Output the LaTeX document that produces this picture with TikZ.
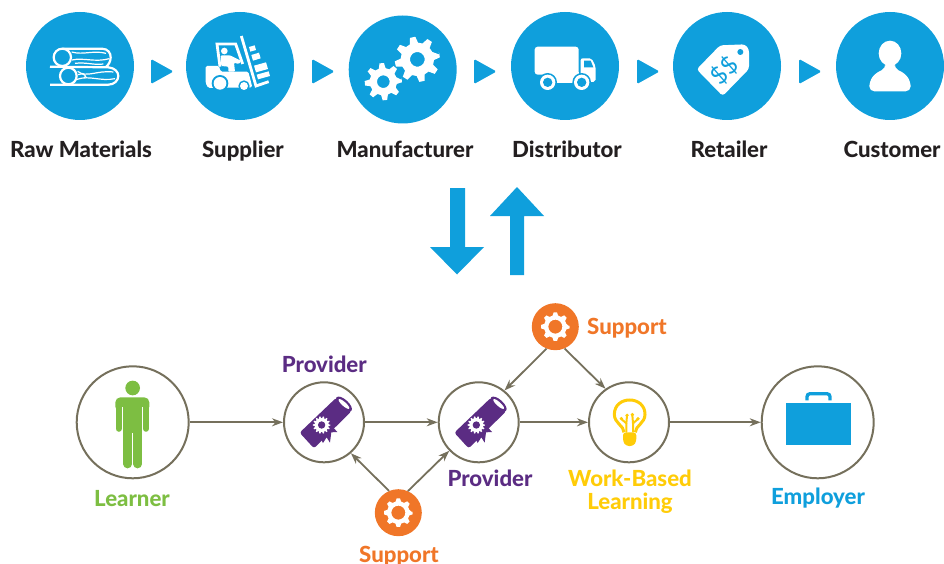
\documentclass[tikz,border=0pt]{standalone}
\usepackage{fontspec}
\setmainfont{Lato}[BoldFont={Lato Heavy}]
\usetikzlibrary{arrows.meta}
\definecolor{cblue}{HTML}{0F9FDC}
\definecolor{corange}{HTML}{F07628}
\definecolor{cpurple}{HTML}{5B2C83}
\definecolor{cgreen}{HTML}{7DBE42}
\definecolor{cyellow}{HTML}{FFCC08}
\definecolor{cdark}{HTML}{231F20}
\definecolor{cline}{HTML}{75705C}
\tikzset{
  stepdisc/.style={circle,fill=cblue,inner sep=0pt,minimum size=108pt},
  bigring/.style={circle,draw=cline,line width=2pt,inner sep=0pt,minimum size=112pt},
  midring/.style={circle,draw=cline,line width=2pt,inner sep=0pt,minimum size=80pt},
  helpdisc/.style={circle,fill=corange,inner sep=0pt,minimum size=47pt},
  steplabel/.style={anchor=base,text=cdark,font=\fontsize{22.2}{24}\selectfont\bfseries,inner sep=0pt},
  lowlabel/.style={anchor=base,font=\fontsize{22.2}{24}\selectfont\bfseries,inner sep=0pt},
  flow/.style={cline,line width=1.8pt,-{Stealth[length=11pt,width=8pt]}},
  zz/.style={x=.33333pt,y=-.33333pt},
}
\newcommand{\gearfill}[8]{% colour, cx, cy, teeth, Rout, Rroot, Rhole, phase
  \fill[#1,even odd rule,shift={(#2,#3)},rotate=#8]
    (#5,0) \foreach \i [evaluate=\i as \a using (\i-1)*360/#4] in {1,...,#4}
      { -- ({\a-55/#4}:#5) -- ({\a+55/#4}:#5) -- ({\a+115/#4}:#6) -- ({\a+245/#4}:#6) }
    -- cycle (0,0) circle[radius=#7];}
\newcommand{\diploma}{%
  \fill[cpurple,rounded corners=2.5pt] (343,413) -- (453,308) -- (499,348) -- (386,460) -- cycle;
  \fill[cpurple] (395,410) -- (413,444) -- (424,427) -- (434,443) -- (438,412) -- (456,411) -- (430,382) -- cycle;
  \fill[cpurple,rotate around={-42:(476,327)}] (476,327) circle[x radius=30,y radius=13];
  \fill[white,rotate around={-42:(476,327)}] (476,327) circle[x radius=21,y radius=6];
  \gearfill{white}{409}{390}{14}{26}{21}{10}{0}
  \fill[cpurple] (409,390) circle[radius=11];
}
\begin{document}
\begin{tikzpicture}[x=1pt,y=-1pt]
\useasboundingbox (0,0) rectangle (944,564);
% top row
\node[stepdisc] (s1) at (80,66) {};
\node[stepdisc] (s2) at (240,66) {};
\node[stepdisc] (s3) at (402.7,69.5) {};
\node[stepdisc] (s4) at (565,66) {};
\node[stepdisc] (s5) at (727,66) {};
\node[stepdisc] (s6) at (890,66) {};
\foreach \p in {151,312,474,637,799}
  \fill[cblue,rounded corners=1.5pt] (\p,59) -- (\p+22.5,71.5) -- (\p,84) -- cycle;
\node[steplabel] (l1) at (81,157.6) {Raw Materials};
\node[steplabel] (l2) at (243,157.6) {Supplier};
\node[steplabel] (l3) at (405,157.6) {Manufacturer};
\node[steplabel] (l4) at (567,157.6) {Distributor};
\node[steplabel] (l5) at (729,157.6) {Retailer};
\node[steplabel] (l6) at (892,157.6) {Customer};
% logs
\begin{scope}[zz]
  \draw[white,line width=2.2pt] (187,172) circle[radius=26];
  \draw[white,line width=2.2pt] (205,228) circle[radius=25];
  \draw[white,line width=2.2pt] (187,146) -- (305,146) .. controls (325,146) and (332,160) .. (332,172) .. controls (332,185) and (325,195) .. (318,201);
  \draw[white,line width=2.2pt] (150,200) -- (325,202) .. controls (345,204) and (355,216) .. (355,228) .. controls (355,242) and (342,254) .. (325,254) -- (150,254);
  \draw[white,line width=1.2pt] (215,156) .. controls (250,166) and (280,150) .. (318,160);
  \draw[white,line width=1.2pt] (216,180) .. controls (250,172) and (285,188) .. (328,176);
  \draw[white,line width=1.2pt] (225,190) .. controls (260,186) and (280,196) .. (310,192);
  \draw[white,line width=1.2pt] (233,214) .. controls (260,235) and (290,210) .. (340,216);
  \draw[white,line width=1.2pt] (231,238) .. controls (270,225) and (300,245) .. (345,236);
  \draw[white,line width=1.2pt] (234,224) .. controls (250,215) and (265,232) .. (252,233);
\end{scope}
% forklift
\begin{scope}[zz]
  \fill[white,rounded corners=1.5pt] (617,198) -- (657,198) -- (662,215) -- (745,215) -- (757,262) -- (625,264) -- (617,250) -- cycle;
  \draw[white,line width=2.8pt] (660,200) -- (651,132) -- (707,132) -- (728,192);
  \fill[white] (673,153) circle[radius=10];
  \fill[white,rounded corners=1pt] (662,166) -- (690,166) -- (724,183) -- (716,192) -- (702,188) -- (705,215) -- (685,215) -- (685,200) -- (664,198) -- cycle;
  \fill[cblue] (660,250) circle[radius=25];
  \fill[white] (660,250) circle[radius=19];
  \fill[cblue] (732,258) circle[radius=17];
  \fill[white] (732,258) circle[radius=12];
  \draw[white,line width=2.8pt] (724,108) -- (768,258) -- (806,245);
  \fill[white] (747,141) -- (764,136) -- (768,150) -- (751,155) -- cycle;
  \fill[white] (754,165) -- (777,158) -- (782,175) -- (759,182) -- cycle;
  \fill[white] (762,197) -- (798,187) -- (804,207) -- (768,217) -- cycle;
  \fill[white] (770,224) -- (806,214) -- (810,228) -- (774,238) -- cycle;
\end{scope}
% gears
\begin{scope}[zz,xshift=330pt]
  \gearfill{white}{262}{178}{8}{68}{50}{22}{12}
  \gearfill{white}{160}{245}{8}{56}{41}{19}{5}
\end{scope}
% truck
\begin{scope}[zz,xshift=330pt]
  \fill[white,rounded corners=3pt] (614,140) rectangle (746,224);
  \fill[white] (650,215) rectangle (746,248);
  \fill[white,rounded corners=2pt] (752,175) -- (785,175) -- (797,200) -- (797,245) -- (752,248) -- cycle;
  \fill[cblue] (762,182) -- (782,182) -- (790,202) -- (762,202) -- cycle;
  \foreach \c in {653,755} {
    \fill[cblue] (\c,247) circle[radius=28];
    \fill[white] (\c,247) circle[radius=23];
    \fill[cblue] (\c,247) circle[radius=14];
  }
\end{scope}
% tag
\begin{scope}[zz,xshift=640pt]
  \fill[white,rounded corners=3pt] (170,208) -- (240,136) -- (315,133) -- (327,148) -- (327,207) -- (248,288) -- cycle;
  \fill[cblue] (301,156) circle[radius=9];
  \node[text=cblue,rotate=45,inner sep=0pt,font=\fontsize{24}{26}\selectfont] (tagmark) at (254,212) {\$\$};
\end{scope}
% customer
\begin{scope}[zz,xshift=640pt]
  \fill[white] (750,160) circle[x radius=34,y radius=38];
  \fill[white,rounded corners=5pt] (735,185) -- (738,205) -- (705,220) -- (688,245) -- (688,274) -- (812,274) -- (812,245) -- (795,220) -- (762,205) -- (765,185) -- cycle;
\end{scope}
% big arrows
\fill[cblue] (450,188) -- (465,188) -- (465,247) -- (484,247) -- (457,274.5) -- (430,247) -- (450,247) -- cycle;
\fill[cblue] (510,275) -- (524,275) -- (524,216) -- (544,216) -- (517,187) -- (490,216) -- (510,216) -- cycle;
% lower row
\node[bigring] (learner) at (132.7,422.3) {};
\node[midring] (p1) at (324,422.3) {};
\node[midring] (p2) at (478.7,422.3) {};
\node[midring] (wbl) at (629,422.3) {};
\node[bigring] (emp) at (817.7,422.3) {};
\node[helpdisc] (st) at (555.3,326.7) {};
\node[helpdisc] (sb) at (398.3,512.7) {};
\draw[flow] (learner) -- (p1);
\draw[flow] (p1) -- (p2);
\draw[flow] (p2) -- (wbl);
\draw[flow] (wbl) -- (emp);
\draw[flow] (st.248) -- (p2.51.5);
\draw[flow] (st.293) -- (wbl.125);
\draw[flow] (sb.113) -- (p1.-49);
\draw[flow] (sb.66) -- (p2.224);
% support gears
\begin{scope}[zz]
  \gearfill{white}{1666}{980}{8}{43}{34}{21}{0}
  \gearfill{white}{1195}{1538}{8}{43}{34}{21}{0}
\end{scope}
% learner figure
\begin{scope}[zz,xshift=60pt,yshift=-350pt]
  \fill[cgreen] (218,114) circle[radius=22];
  \fill[cgreen,rounded corners=5pt] (166,142) rectangle (268,185);
  \fill[cgreen] (190,170) rectangle (246,250);
  \draw[cgreen,line width=6.3pt,line cap=round] (176,170) -- (176,236);
  \draw[cgreen,line width=6.3pt,line cap=round] (258,170) -- (258,236);
  \draw[cgreen,line width=8.7pt,line cap=round] (203,245) -- (203,342);
  \draw[cgreen,line width=8.7pt,line cap=round] (233,245) -- (233,342);
  \draw[white,line width=.7pt] (188,172) -- (188,246);
  \draw[white,line width=.7pt] (248,172) -- (248,246);
\end{scope}
% diplomas
\begin{scope}[zz,xshift=340pt,yshift=-295pt]
  \diploma
\end{scope}
\begin{scope}[zz,xshift=185.3pt,yshift=-295pt]
  \diploma
\end{scope}
% bulb
\begin{scope}[zz,xshift=340pt,yshift=-295pt]
  \draw[cyellow,line width=3pt] (852,412) .. controls (852,392) and (823,385) .. (823,358) .. controls (823,330) and (845,315) .. (869,315) .. controls (893,315) and (915,330) .. (915,358) .. controls (915,385) and (886,392) .. (886,412);
  \fill[cyellow,rounded corners=3pt] (849,412) -- (889,412) -- (889,440) -- (880,453) -- (858,453) -- (849,440) -- cycle;
  \draw[cyellow,line width=2pt,line cap=round,line join=round] (859,410) -- (859,385) -- (844,372);
  \draw[cyellow,line width=2pt,line cap=round,line join=round] (859,385) -- (861,362);
  \draw[cyellow,line width=2pt,line cap=round,line join=round] (879,410) -- (879,385) -- (894,372);
  \draw[cyellow,line width=2pt,line cap=round,line join=round] (879,385) -- (877,360);
  \foreach \q in {(844,371),(861,361),(877,359),(894,371)} \fill[cyellow] \q circle[radius=5.5];
\end{scope}
% briefcase
\begin{scope}[zz,xshift=680pt,yshift=-350pt]
  \fill[cblue] (318,160) rectangle (514,285);
  \draw[cblue,line width=3.3pt,rounded corners=3pt] (381,151) -- (381,131) -- (450,131) -- (450,151);
\end{scope}
% labels
\node[lowlabel,text=cpurple] (lp1) at (324.3,372.5) {Provider};
\node[lowlabel,text=cgreen] (ll) at (132,506) {Learner};
\node[lowlabel,text=corange] (lst) at (627,334.5) {Support};
\node[lowlabel,text=cpurple] (lp2) at (490,486.2) {Provider};
\node[lowlabel,text=cyellow] (lw1) at (630,486.5) {Work-Based};
\node[lowlabel,text=cyellow] (lw2) at (630,509.5) {Learning};
\node[lowlabel,text=corange] (lsb) at (399,562) {Support};
\node[lowlabel,text=cblue] (le) at (818,504.5) {Employer};
\end{tikzpicture}
\end{document}
